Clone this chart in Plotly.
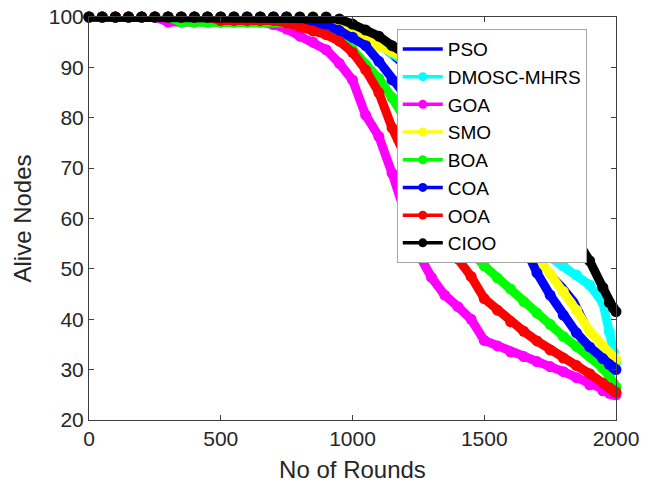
import plotly.graph_objects as go

# Simulation rounds at which alive-node counts were sampled
ROUNDS = list(range(0, 2000, 50)) + [1975, 1990, 2000]

PSO = [100] * 17 + [99.7, 99.2, 98.5, 97.3, 95.8, 94.0, 91.8, 89.5, 87.0, 84.5, 81.5, 78.5,
                    75.0, 71.5, 67.5, 63.0, 58.0, 53.0, 49.6, 47.0, 43.8, 38.5, 35.0,
                    33.3, 32.5, 31.8]
DMOSC_MHRS = [100] * 17 + [99.8, 99.2, 98.4, 97.5, 96.3, 94.8, 92.8, 91.0, 88.5, 86.0, 83.0,
                           80.0, 76.5, 72.5, 68.0, 63.5, 58.5, 54.5, 52.3, 50.6, 48.8, 46.8,
                           43.3, 37.5, 33.5, 31.5]
GOA = [100] * 6 + [99] * 8 + [98.5, 97.6, 96.2, 95.0, 93.5, 90.8, 87.5, 80.5, 76.3, 69.0, 60.5,
                              53.0, 48.3, 44.8, 42.5, 40.0, 35.8, 34.7, 33.5, 32.6, 31.6, 30.6,
                              29.6, 28.4, 27.0, 25.8, 25.3, 25.1, 25.0]
SMO = [100] * 18 + [99.5, 98.7, 97.5, 95.5, 94.3, 93.2, 91.8, 90.0, 88.0, 85.5, 82.5, 79.0,
                    75.0, 70.2, 64.5, 58.0, 52.5, 49.0, 45.5, 41.8, 37.6, 34.6, 33.2, 32.5, 32.0]
BOA = [100] * 7 + [99] * 8 + [98.8, 98.4, 97.6, 96.8, 96.0, 93.5, 90.5, 87.8, 84.0, 80.0, 75.5,
                              70.5, 63.5, 57.8, 53.3, 50.6, 48.2, 46.0, 43.5, 41.2, 39.0, 36.6,
                              34.6, 32.7, 30.3, 28.5, 27.3, 26.5]
COA = [100] * 16 + [99.5, 99.0, 98.3, 97.3, 96.0, 94.3, 91.2, 87.5, 84.5, 81.5, 78.5, 75.0,
                    71.5, 68.0, 64.5, 61.0, 58.0, 54.8, 49.2, 44.8, 40.8, 37.3, 34.5, 32.2,
                    31.0, 30.4, 30.0]
OOA = [100] * 10 + [99.3] * 5 + [98.8, 98.0, 97.2, 96.5, 95.2, 93.0, 89.5, 85.0, 78.0, 72.2,
                                 66.5, 61.0, 55.6, 52.0, 48.5, 44.1, 41.8, 39.5, 37.6, 35.7,
                                 33.9, 32.3, 30.8, 29.2, 27.3, 26.4, 25.9, 25.5]
CIOO = [100] * 19 + [99.6, 98.6, 97.4, 96.2, 94.3, 92.8, 91.3, 89.7, 88.0, 86.0, 84.0, 81.6,
                     79.0, 76.0, 72.6, 68.7, 64.4, 60.0, 56.0, 51.6, 46.3, 43.3, 42.2, 41.5]

SERIES = [
    ("PSO", PSO, "#0000ff", False),
    ("DMOSC-MHRS", DMOSC_MHRS, "#00ffff", True),
    ("GOA", GOA, "#ff00ff", True),
    ("SMO", SMO, "#ffff00", True),
    ("BOA", BOA, "#00ff00", True),
    ("COA", COA, "#0000ff", True),
    ("OOA", OOA, "#ff0000", True),
    ("CIOO", CIOO, "#000000", True),
]

FONT = "Liberation Sans, Arial, Helvetica, sans-serif"
TXT = "#262626"

fig = go.Figure()

# data curves drawn as thick chains of dots
for name, vals, color, dots in SERIES:
    if dots:
        fig.add_trace(go.Scatter(
            x=ROUNDS, y=vals, mode="lines+markers", name=name, showlegend=False,
            line=dict(color=color, width=9),
            marker=dict(color=color, size=11),
            cliponaxis=False,
        ))
    else:
        fig.add_trace(go.Scatter(
            x=ROUNDS, y=vals, mode="lines", name=name, showlegend=False,
            line=dict(color=color, width=2.5),
        ))

# legend entries
for i, (name, vals, color, dots) in enumerate(SERIES):
    fig.add_trace(go.Scatter(
        x=[None], y=[None], name=name, legendgroup=f"g{i}",
        mode="lines+markers" if dots else "lines",
        line=dict(color=color, width=3.5),
        marker=dict(color=color, size=9),
    ))

axis_common = dict(
    showline=True, linecolor="#404040", linewidth=1, mirror="ticks",
    ticks="inside", ticklen=5, tickcolor="#404040",
    showgrid=False, zeroline=False, automargin=False,
    tickfont=dict(family=FONT, size=21, color=TXT),
    title_font=dict(family=FONT, size=24, color=TXT),
)

fig.update_layout(
    template="none",
    width=649, height=487,
    margin=dict(l=89, r=33, t=17, b=67, autoexpand=False),
    paper_bgcolor="white", plot_bgcolor="white",
    showlegend=True,
    xaxis=dict(range=[0, 2000], tickvals=[0, 500, 1000, 1500, 2000],
               title=dict(text="No of Rounds", standoff=11), **axis_common),
    yaxis=dict(range=[20, 100], tickvals=list(range(20, 101, 10)),
               title=dict(text="Alive Nodes", standoff=10), **axis_common),
    legend=dict(
        x=0.584, y=0.97, xanchor="left", yanchor="top",
        bgcolor="white", bordercolor="#a6a6a6", borderwidth=1,
        font=dict(family=FONT, size=19, color="black"),
        tracegroupgap=0, itemwidth=40,
    ),
)

fig.write_html("out.html")
